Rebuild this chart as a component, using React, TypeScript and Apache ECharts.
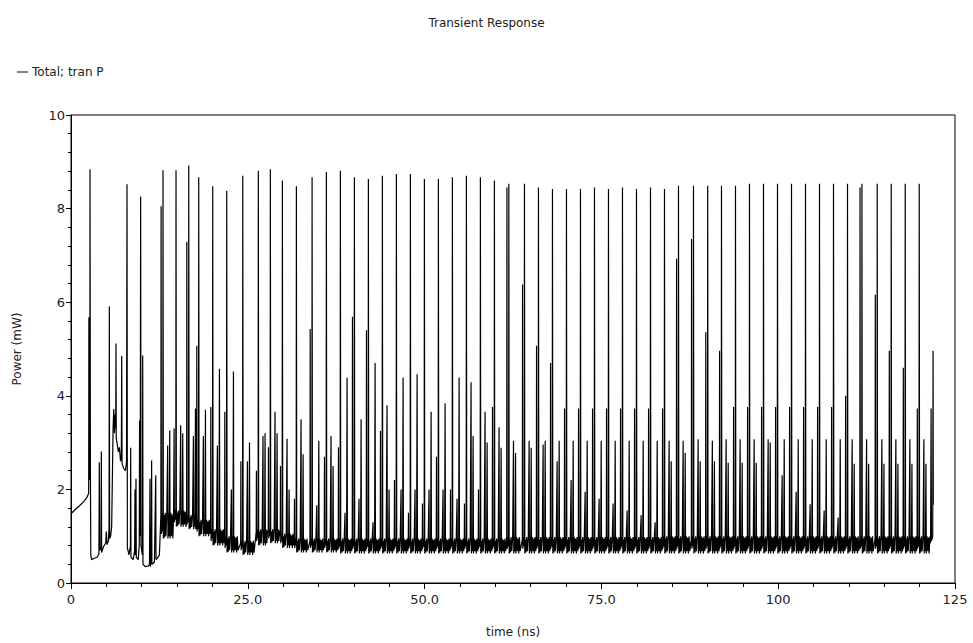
import React, { useEffect, useRef } from "react";
import * as echarts from "echarts";

// ---- Data ----
// Irregular start-up portion (time ns, power mW)
const earlyTrace: [number, number][] = [
  [0, 1.48], [0.6, 1.57], [1.2, 1.65], [1.8, 1.74], [2.3, 1.84], [2.5, 1.92],
  [2.53, 5.68], [2.58, 2.2], [2.66, 2.3], [2.69, 8.84], [2.74, 2.49], [2.8, 0.6], [2.9, 0.5],
  [3.3, 0.53], [3.7, 0.55], [3.95, 0.62], [4.0, 2.58], [4.05, 0.7], [4.24, 0.75], [4.29, 2.81],
  [4.33, 0.65], [4.6, 0.78], [4.9, 0.85], [5.0, 1.1], [5.1, 0.82], [5.3, 0.9], [5.38, 1.2],
  [5.42, 5.91], [5.46, 0.95], [5.6, 1.0], [5.75, 1.2], [5.95, 3.3], [6.05, 3.72], [6.15, 3.2],
  [6.25, 3.6], [6.32, 3.3], [6.36, 5.12], [6.4, 3.1], [6.55, 2.95], [6.7, 2.8], [6.85, 2.9],
  [7.0, 2.6], [7.12, 2.75], [7.17, 4.85], [7.22, 2.55], [7.45, 2.45], [7.7, 2.4], [7.85, 2.6],
  [7.92, 8.52], [7.97, 0.75], [8.2, 0.6], [8.4, 0.8], [8.44, 2.89], [8.48, 0.55], [8.8, 0.5],
  [9.0, 0.7], [9.05, 2.0], [9.1, 0.6], [9.19, 2.23], [9.23, 0.55], [9.5, 0.5], [9.65, 0.8],
  [9.7, 3.47], [9.78, 1.0], [9.85, 8.26], [9.9, 0.8], [10.1, 0.6], [10.14, 4.86], [10.18, 0.4],
  [10.5, 0.35], [10.9, 0.36], [11.1, 0.4], [11.17, 2.23], [11.21, 0.35], [11.35, 0.45],
  [11.4, 2.62], [11.44, 0.4], [11.8, 0.45], [11.98, 2.3], [12.02, 0.5], [12.3, 0.55], [12.5, 0.6],
];

// Regular firing portion: one entry per tall spike
const spikeTimes = [
  13.01, 14.85, 16.65, 18.06, 20.04, 22.02, 24.29, 26.49, 28.19, 29.89, 31.87,
  34.09, 36.11, 38.09, 40.07, 42.05, 44.03, 46.01, 47.99, 49.97, 51.95,
  53.93, 55.91, 57.89, 59.87, 61.91, 64.12, 66.10, 68.08, 70.06, 72.04,
  74.02, 76.0, 77.98, 79.96, 81.94, 83.92, 85.9, 88.02, 90.03, 91.98,
  93.96, 95.94, 97.92, 99.9, 101.88, 103.86, 105.84, 107.82, 109.8, 111.84,
  114.0, 115.98, 117.96, 119.94,
];
const spikePeaks = [
  8.82, 8.82, 8.92, 8.67, 8.48, 8.38, 8.7, 8.81, 8.84, 8.6, 8.48,
  8.67, 8.78, 8.81, 8.67, 8.63, 8.7, 8.74, 8.74, 8.63, 8.63,
  8.67, 8.7, 8.67, 8.6, 8.53, 8.53, 8.45, 8.42, 8.42, 8.42,
  8.45, 8.42, 8.45, 8.42, 8.45, 8.42, 8.49, 8.49, 8.49, 8.49,
  8.49, 8.53, 8.53, 8.53, 8.53, 8.53, 8.53, 8.53, 8.53, 8.53,
  8.53, 8.53, 8.53, 8.53,
];
// spike just ahead of each tall spike
const leadPeaks = [
  8.05, 3.3, 7.29, 5.07, 3.76, 3.66, 2.6, 2.4, 2.9, 2.5, 1.8,
  5.43, 2.7, 2.9, 5.69, 5.4, 3.25, 2.2, 1.5, 1.7, 2.7,
  2.0, 1.7, 2.0, 3.76, 8.45, 6.38, 5.07, 4.7, 3.73, 3.73,
  3.73, 3.73, 3.73, 3.73, 3.73, 3.73, 6.93, 7.35, 5.36, 4.96,
  3.76, 3.76, 3.76, 3.76, 3.76, 3.76, 3.76, 3.76, 4.0, 8.45,
  6.16, 4.96, 4.6, 3.73,
];
// the two smaller spikes after each tall spike
const midPeaksA = [
  2.94, 3.37, 3.14, 3.14, 2.94, 2.0, 2.6, 3.14, 3.66, 3.08, 3.5,
  1.66, 3.14, 1.5, 1.8, 1.3, 3.8, 2.0, 2.0, 2.0, 2.0,
  1.8, 4.29, 3.66, 3.33, 3.04, 3.04, 2.96, 2.6, 2.2, 1.95,
  1.8, 1.7, 1.55, 1.45, 1.3, 3.04, 3.04, 3.07, 3.04, 3.07,
  3.07, 3.07, 3.07, 2.3, 1.95, 1.68, 1.55, 1.4, 3.07, 3.07,
  3.07, 3.07, 3.07, 3.07,
];
const midPeaksB = [
  3.26, 3.2, 3.73, 3.7, 4.58, 4.52, 3.0, 3.2, 3.2, 2.0, 2.75,
  3.04, 2.5, 4.39, 3.5, 4.7, 2.0, 4.39, 4.46, 3.66, 3.84,
  4.39, 3.14, 3.0, 2.89, 2.78, 2.89, 3.04, 3.04, 3.04, 3.04,
  3.04, 3.04, 3.04, 3.04, 3.04, 2.6, 2.78, 2.6, 2.6, 2.57,
  2.57, 2.57, 3.0, 3.07, 3.07, 3.07, 3.07, 3.07, 2.55, 2.55,
  2.55, 2.55, 2.55, 2.55,
];
// floor of the trace between spikes, and the top of its ripple
const baseLevels = [
  0.95, 1.2, 1.15, 1.0, 0.8, 0.65, 0.6, 0.8, 0.85, 0.75, 0.65,
  0.65, 0.65, 0.63, 0.63, 0.63, 0.63, 0.63, 0.63, 0.63, 0.63,
  0.63, 0.63, 0.63, 0.63, 0.63, 0.63, 0.63, 0.63, 0.63, 0.63,
  0.63, 0.63, 0.63, 0.63, 0.63, 0.63, 0.63, 0.63, 0.63, 0.63,
  0.63, 0.63, 0.63, 0.63, 0.63, 0.63, 0.63, 0.63, 0.63, 0.63,
  0.63, 0.63, 0.63, 0.63,
];
const rippleTops = [
  1.5, 1.55, 1.45, 1.35, 1.15, 1.0, 0.9, 1.15, 1.15, 1.05, 0.95,
  0.95, 0.95, 0.95, 0.95, 0.95, 0.95, 0.95, 0.95, 0.95, 0.95,
  0.95, 0.95, 0.95, 0.95, 0.98, 0.98, 0.98, 0.98, 0.98, 0.98,
  0.98, 0.98, 0.98, 0.98, 0.98, 1.0, 1.0, 1.0, 1.0, 1.0,
  1.0, 1.0, 1.0, 1.0, 1.0, 1.0, 1.0, 1.0, 1.0, 1.0,
  1.0, 1.0, 1.0, 1.0,
];
// end of the simulation
const tailTrace: [number, number][] = [
  [121.55, 0.85], [121.62, 3.73], [121.67, 0.9], [121.85, 1.0], [121.9, 4.96], [121.93, 1.67],
];

const xTicks = [0, 25, 50, 75, 100, 125];
const yTicks = [0, 2, 4, 6, 8, 10];

function buildTrace(): [number, number][] {
  const pts: [number, number][] = [...earlyTrace];
  for (let i = 0; i < spikeTimes.length; i++) {
    const t = spikeTimes[i];
    const next = i + 1 < spikeTimes.length ? spikeTimes[i + 1] : tailTrace[0][0] + 0.3;
    const b = baseLevels[i];
    const r = rippleTops[i];
    const before: [number, number][] = [
      [t - 0.3, r - 0.05], [t - 0.27, leadPeaks[i]], [t - 0.23, b + 0.1], [t - 0.15, r],
      [t - 0.08, b + 0.15], [t - 0.03, r], [t, spikePeaks[i]],
    ];
    const after: [number, number][] = [
      [t + 0.05, b], [t + 0.14, r - 0.05], [t + 0.22, b + 0.02], [t + 0.32, r],
      [t + 0.42, b + 0.05], [t + 0.54, r], [t + 0.66, midPeaksA[i]],
      [t + 0.7, b], [t + 0.8, r], [t + 0.88, b + 0.05], [t + 0.95, midPeaksB[i]],
      [t + 1.0, b], [t + 1.1, r], [t + 1.2, b + 0.05], [t + 1.3, r - 0.03],
      [t + 1.4, b], [t + 1.5, r], [t + 1.6, b + 0.05],
    ];
    pts.push(...before);
    for (const p of after) if (p[0] < next - 0.32) pts.push(p);
  }
  pts.push(...tailTrace);
  return pts;
}

const FONT = "DejaVu Sans";

export default function App() {
  const ref = useRef<HTMLDivElement>(null);
  useEffect(() => {
    if (!ref.current) return;
    const chart = echarts.init(ref.current, undefined, { renderer: "svg" });
    chart.setOption({
      animation: false,
      backgroundColor: "#fff",
      title: {
        text: "Transient Response",
        left: "center",
        top: 12,
        textStyle: { fontFamily: FONT, fontSize: 12, fontWeight: "normal", color: "#222" },
      },
      legend: {
        left: 12,
        top: 61,
        itemWidth: 11,
        itemHeight: 1,
        itemGap: 5,
        icon: "rect",
        data: ["Total; tran P"],
        textStyle: { fontFamily: FONT, fontSize: 12, color: "#222", padding: [0, 0, 0, -1] },
      },
      grid: {
        left: 71,
        right: 18,
        top: 115,
        bottom: 58,
        show: true,
        borderColor: "#000",
        borderWidth: 1,
      },
      xAxis: {
        type: "value",
        min: 0,
        max: 125,
        interval: 25,
        name: "time (ns)",
        nameLocation: "middle",
        nameGap: 43,
        nameTextStyle: { fontFamily: FONT, fontSize: 12, color: "#222" },
        axisLine: { show: true, lineStyle: { color: "#000", width: 1 } },
        axisTick: { show: true, length: 6, lineStyle: { color: "#000" } },
        minorTick: { show: true, splitNumber: 5, length: 4, lineStyle: { color: "#000" } },
        splitLine: { show: false },
        axisLabel: {
          margin: 10,
          fontFamily: FONT,
          fontSize: 13,
          color: "#222",
          customValues: xTicks,
          formatter: (v: number) => (v === 0 ? "0" : v >= 100 ? String(v) : v.toFixed(1)),
        },
      },
      yAxis: {
        type: "value",
        min: 0,
        max: 10,
        interval: 2,
        name: "Power (mW)",
        nameLocation: "middle",
        nameGap: 48,
        nameTextStyle: { fontFamily: FONT, fontSize: 12, color: "#222" },
        axisLine: { show: true, lineStyle: { color: "#000", width: 1 } },
        axisTick: { show: true, length: 5, lineStyle: { color: "#000" } },
        minorTick: { show: true, splitNumber: 5, length: 3, lineStyle: { color: "#000" } },
        splitLine: { show: false },
        axisLabel: {
          margin: 6,
          fontFamily: FONT,
          fontSize: 13,
          color: "#222",
          formatter: (v: number) => (yTicks.includes(v) ? String(v) : ""),
        },
      },
      series: [
        {
          name: "Total; tran P",
          type: "line",
          data: buildTrace(),
          showSymbol: false,
          symbol: "none",
          color: "#000",
          lineStyle: { color: "#000", width: 1.2 },
        },
      ],
    });
    return () => chart.dispose();
  }, []);
  return <div ref={ref} style={{ width: 973, height: 643, position: "absolute", left: 0, top: 0 }} />;
}
